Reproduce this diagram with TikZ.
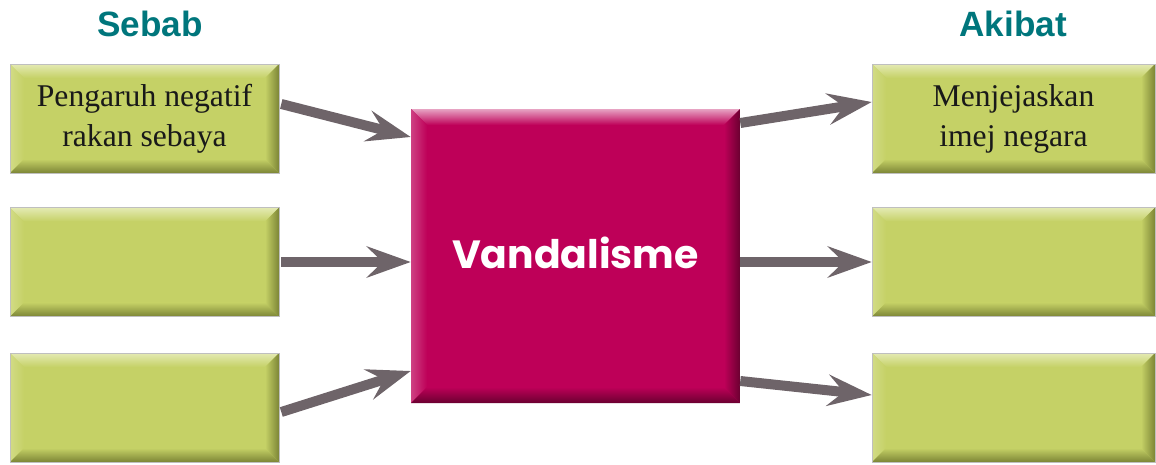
\documentclass[tikz,border=0pt]{standalone}
\usepackage{fontspec}
\setmainfont{Liberation Serif}
\newfontfamily\headfont{Liberation Sans}
\newfontfamily\roundfont{Poppins}
\usepackage{tikz}
\usetikzlibrary{arrows.meta, positioning}
\definecolor{teal1}{HTML}{00767C}
\definecolor{lime}{HTML}{C5D166}
\definecolor{limelt}{HTML}{E4EAB4}
\definecolor{limedk}{HTML}{7C8536}
\definecolor{plum}{HTML}{BE0058}
\definecolor{plumlt}{HTML}{E7A3C3}
\definecolor{plumdk}{HTML}{6A0030}
\definecolor{arrowgray}{HTML}{6E6469}
\tikzset{
  bevel/.style n args={4}{path picture={
    \coordinate (bnw) at (path picture bounding box.north west);
    \coordinate (bne) at (path picture bounding box.north east);
    \coordinate (bsw) at (path picture bounding box.south west);
    \coordinate (bse) at (path picture bounding box.south east);
    \shade[top color=#1, bottom color=#2] (bnw) -- (bne) -- ([shift={(-#4,-#4)}]bne) -- ([shift={(#4,-#4)}]bnw) -- cycle;
    \shade[left color=#1!40!#2, right color=#2] (bnw) -- ([shift={(#4,-#4)}]bnw) -- ([shift={(#4,#4)}]bsw) -- (bsw) -- cycle;
    \shade[left color=#2, right color=#3] (bne) -- ([shift={(-#4,-#4)}]bne) -- ([shift={(-#4,#4)}]bse) -- (bse) -- cycle;
    \shade[top color=#2, bottom color=#3] (bsw) -- (bse) -- ([shift={(-#4,#4)}]bse) -- ([shift={(#4,#4)}]bsw) -- cycle;
  }},
  limebox/.style={rectangle, fill=lime, draw=black!25, line width=0.4pt, align=center,
                  font=\fontsize{22.5}{28.4}\selectfont, text=black!90,
                  minimum height=2.725cm, inner sep=0pt, bevel={limelt}{lime}{limedk}{3.5mm}},
  causebox/.style={limebox, minimum width=6.725cm},
  effectbox/.style={limebox, minimum width=7.075cm},
  corebox/.style={rectangle, fill=plum, minimum width=8.225cm, minimum height=7.35cm,
                  inner sep=0pt, text=white, font=\roundfont\bfseries\fontsize{28}{32}\selectfont,
                  bevel={plumlt}{plum}{plumdk}{4mm}},
  headlbl/.style={font=\headfont\bfseries\fontsize{25}{30}\selectfont, text=teal1},
  pipe/.style={-{Stealth[length=11mm, width=7.8mm, inset=4mm]}, line width=2.5mm, draw=arrowgray},
}

\begin{document}
\begin{tikzpicture}
  \useasboundingbox (0,0) rectangle (28.9,-11.6);
  \node[headlbl] (hc) at (3.75,-0.6)   {Sebab};
  \node[headlbl] (he) at (25.33,-0.6)  {Akibat};
  \node[corebox] (v) at (14.3875,-6.4) {\raisebox{0.15cm}{Vandalisme}};
  \node[causebox] (s1) at (3.6125,-2.9625)  {Pengaruh negatif\\rakan sebaya};
  \node[causebox] (s2) at (3.6125,-6.55)    {};
  \node[causebox] (s3) at (3.6125,-10.1875) {};
  \node[effectbox] (e1) at (25.3375,-2.9625)  {Menjejaskan\\imej negara};
  \node[effectbox] (e2) at (25.3375,-6.55)    {};
  \node[effectbox] (e3) at (25.3375,-10.1875) {};
  % causes into the centre
  \draw[pipe] ([shift={(0.05,0.3625)}]s1.east) -- ([yshift=2.975cm]v.west);
  \draw[pipe] ([xshift=0.05cm]s2.east) -- (s2.east -| v.west);
  \draw[pipe] ([shift={(0.05,-0.1125)}]s3.east) -- ([yshift=-2.875cm]v.west);
  % centre out to effects
  \draw[pipe] ([yshift=3.325cm]v.east) -- ([yshift=0.4125cm]e1.west);
  \draw[pipe] (v.east |- e2.west) -- (e2.west);
  \draw[pipe] ([yshift=-3.125cm]v.east) -- ([yshift=0.3125cm]e3.west);
\end{tikzpicture}
\end{document}
